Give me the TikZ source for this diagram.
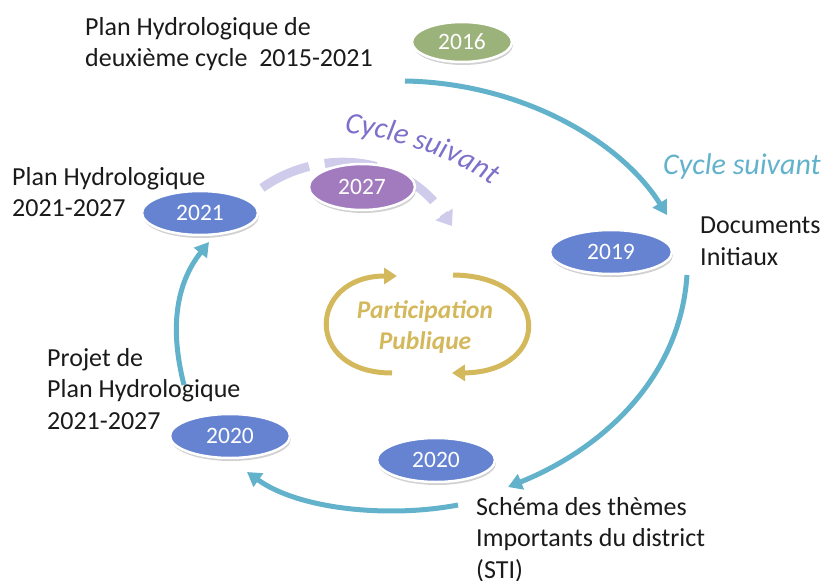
\documentclass[tikz,border=0pt]{standalone}
\usepackage{fontspec}
\setmainfont{Carlito}
\usetikzlibrary{shadows,arrows.meta,decorations.text,shapes.geometric}
\definecolor{cblue}{HTML}{6583D0}
\definecolor{cgreen}{HTML}{9BB27A}
\definecolor{cpurple}{HTML}{A27BBE}
\definecolor{cteal}{HTML}{62B2CB}
\definecolor{ctext}{HTML}{1A1A1A}
\definecolor{cviolet}{HTML}{7C70CB}
\definecolor{clav}{HTML}{CFCBEB}
\definecolor{cgold}{HTML}{D4B85C}
\tikzset{
  yearbox/.style={ellipse, minimum width=#1, minimum height=44pt, inner sep=0pt, draw=white, line width=2.5pt,
    text=white, font=\fontsize{23.5}{23.5}\selectfont,
    drop shadow={shadow xshift=1pt, shadow yshift=-3pt, opacity=0.3, fill=black!60}},
  lbl/.style={align=left, anchor=north west, inner sep=0pt, text=ctext, font=\fontsize{26}{31.5}\selectfont},
  cyc/.style={cteal, line width=5pt, -{Triangle[length=14pt,width=16pt]}},
  gold/.style={cgold, line width=5pt, -{Triangle[length=13pt,width=16pt]}},
}
\begin{document}
\begin{tikzpicture}[x=1pt,y=-1pt]
\useasboundingbox (0,0) rectangle (823,581);
% connectors
\coordinate (t1) at (405,81);
\coordinate (t2) at (667,215);
\coordinate (r1) at (687,275);
\coordinate (r2) at (508,487);
\coordinate (b1) at (458,505);
\coordinate (b2) at (247,472);
\coordinate (l1) at (184,385);
\coordinate (l2) at (209,242);
\draw[cyc] (t1) .. controls (520,83) and (620,140) .. (t2);
\draw[cyc] (r1) .. controls (680,380) and (600,450) .. (r2);
\draw[cyc] (b1) .. controls (390,518) and (300,510) .. (b2);
\draw[cyc] (l1) .. controls (170,330) and (175,285) .. (l2);
% dashed lavender arc
\coordinate (p1) at (262,188);
\coordinate (p2) at (452,226);
\draw[clav, line width=9pt, dash pattern=on 52pt off 16pt, -{Triangle[length=14pt,width=20pt]}] (p1) .. controls (315,150) and (400,150) .. (p2);
% gold arrows
\coordinate (g1) at (392,373);
\coordinate (g2) at (397,276);
\coordinate (g3) at (453,275);
\coordinate (g4) at (452,373);
\draw[gold] (g1) .. controls (303,373) and (308,276) .. (g2);
\draw[gold] (g3) .. controls (552,276) and (552,372) .. (g4);
\node[text=cgold, font=\fontsize{25.5}{31}\selectfont\bfseries\itshape, align=center] (pp) at (425,327) {Participation\\Publique};
% year ellipses
\node[yearbox=100pt, minimum height=40pt, fill=cgreen] (y16) at (462,42) {2016};
\node[yearbox=122pt, fill=cblue] (y19) at (611,252) {2019};
\node[yearbox=118pt, fill=cblue] (y20b) at (436,460) {2020};
\node[yearbox=120pt, fill=cblue] (y20l) at (230,436) {2020};
\node[yearbox=116pt, fill=cblue] (y21) at (200,213) {2021};
\node[yearbox=106pt, minimum height=46pt, fill=cpurple] (y27) at (362,187) {2027};
% labels
\node[lbl] (a) at (85,17) {Plan Hydrologique de\\deuxième cycle\ \ 2015-2021};
\node[lbl] (b) at (700,217) {Documents\\Initiaux};
\node[lbl] (c) at (12,167) {Plan Hydrologique\\2021-2027};
\node[lbl] (d) at (47,348) {Projet de\\Plan Hydrologique\\2021-2027};
\node[lbl] (e) at (476,497) {Schéma des thèmes\\Importants du district\\(STI)};
\node[text=cteal, font=\fontsize{30}{30}\selectfont\itshape, inner sep=0pt] (cs1) at (742,166) {Cycle suivant};
\path[decorate, decoration={text along path, text align=center,
  text={|\color{cviolet}\fontsize{30}{30}\selectfont\itshape|Cycle suivant}}]
  (330,131) .. controls (370,133) and (455,152) .. (503,194);
\end{tikzpicture}
\end{document}
